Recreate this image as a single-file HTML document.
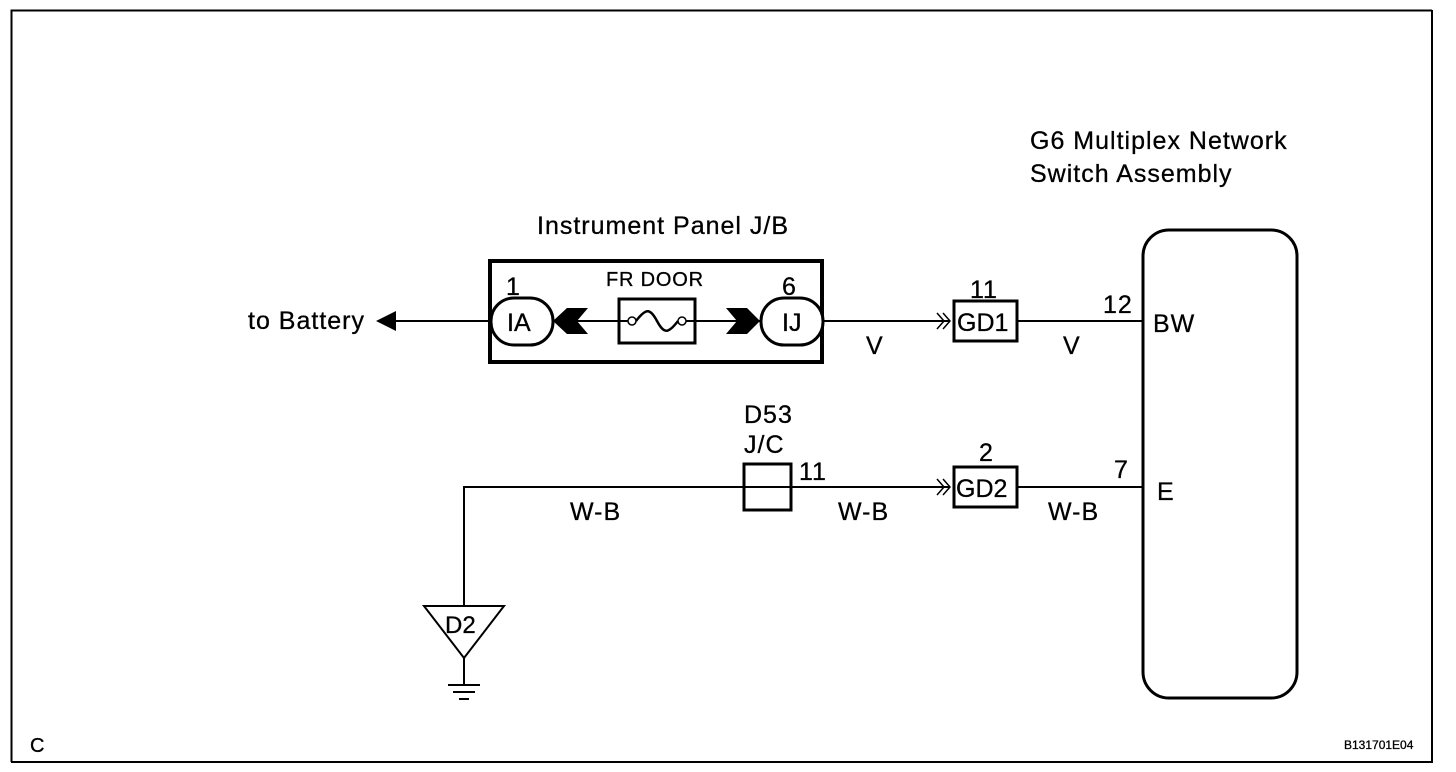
<!DOCTYPE html>
<html><head><style>body{margin:0;background:#fff}svg{display:block}text{font-family:"Liberation Sans",Arial,sans-serif;fill:#000;stroke:#000;stroke-width:0.3}</style></head>
<body>
<svg width="1456" height="772" viewBox="0 0 1456 772" xmlns="http://www.w3.org/2000/svg">
<rect x="0" y="0" width="1456" height="772" fill="#fff"/>
<path d="M11.5 762 V10.5 H1432" fill="none" stroke="#000" stroke-width="2"/>
<path d="M1432 10 V762 H11" fill="none" stroke="#000" stroke-width="2"/>

<g font-size="25" letter-spacing="1">
<text x="1030" y="149">G6 Multiplex Network</text>
<text x="1030" y="182">Switch Assembly</text>
<text x="537" y="234">Instrument Panel J/B</text>
<text x="248" y="329">to Battery</text>
<text x="506" y="295">1</text>
<text x="782" y="295">6</text>
<text x="970" y="298">11</text>
<text x="1103" y="313">12</text>
<text x="1153" y="332">BW</text>
<text x="866" y="354">V</text>
<text x="1063" y="354">V</text>
<text x="744" y="423">D53</text>
<text x="744" y="453">J/C</text>
<text x="799" y="480">11</text>
<text x="979" y="461">2</text>
<text x="1114" y="478">7</text>
<text x="1157" y="500">E</text>
<text x="570" y="520">W-B</text>
<text x="838" y="520">W-B</text>
<text x="1048" y="520">W-B</text>
<text x="30" y="752" font-size="20">C</text>
</g>
<text x="1344" y="749" font-size="12">B131701E04</text>
<text x="606" y="286" font-size="20" letter-spacing="0.8">FR DOOR</text>

<rect x="490" y="261" width="332" height="101" fill="none" stroke="#000" stroke-width="4"/>
<line x1="390" y1="321" x2="493" y2="321" stroke="#000" stroke-width="2"/>
<polygon points="376,321 396,311 396,331" fill="#000"/>
<line x1="553" y1="321" x2="760" y2="321" stroke="#000" stroke-width="2"/>
<line x1="822" y1="321" x2="950" y2="321" stroke="#000" stroke-width="2"/>
<line x1="1018" y1="321" x2="1142" y2="321" stroke="#000" stroke-width="2"/>
<rect x="491" y="298" width="62" height="47" rx="23" fill="#fff" stroke="#000" stroke-width="3"/>
<text x="507" y="331" font-size="25">IA</text>
<rect x="761" y="298" width="62" height="47" rx="23" fill="#fff" stroke="#000" stroke-width="3"/>
<text x="782" y="331" font-size="25">IJ</text>
<polygon points="553,321 567,308 588,308 577,321 588,334 567,334" fill="#000"/>
<polygon points="726,308 747,308 760,321 747,334 726,334 737,321" fill="#000"/>
<rect x="619" y="299" width="76" height="44" fill="#fff" stroke="#000" stroke-width="3"/>
<line x1="619" y1="321" x2="628" y2="321" stroke="#000" stroke-width="2"/>
<line x1="686" y1="321" x2="695" y2="321" stroke="#000" stroke-width="2"/>
<circle cx="632" cy="321" r="4" fill="#fff" stroke="#000" stroke-width="1.5"/>
<circle cx="682" cy="321" r="4" fill="#fff" stroke="#000" stroke-width="1.5"/>
<path d="M636 321 C646 308 650 308 657 321 C664 334 668 334 678 321" fill="none" stroke="#000" stroke-width="2.5"/>

<path d="M937 313 L944 321 L937 329 M943 313 L950 321 L943 329" fill="none" stroke="#000" stroke-width="1.5"/>
<rect x="954" y="301" width="63" height="40" fill="#fff" stroke="#000" stroke-width="3"/>
<text x="957" y="331" font-size="25">GD1</text>

<line x1="464" y1="487" x2="950" y2="487" stroke="#000" stroke-width="2"/>
<line x1="1018" y1="487" x2="1142" y2="487" stroke="#000" stroke-width="2"/>
<rect x="744" y="464" width="47" height="46" fill="none" stroke="#000" stroke-width="3"/>
<path d="M937 479 L944 487 L937 495 M943 479 L950 487 L943 495" fill="none" stroke="#000" stroke-width="1.5"/>
<rect x="954" y="467" width="63" height="40" fill="#fff" stroke="#000" stroke-width="3"/>
<text x="956" y="497" font-size="25">GD2</text>

<line x1="464" y1="486" x2="464" y2="606" stroke="#000" stroke-width="2"/>
<polygon points="424,606 504,606 464,658" fill="#fff" stroke="#000" stroke-width="2"/>
<text x="445" y="633" font-size="24">D2</text>
<line x1="464" y1="658" x2="464" y2="685" stroke="#000" stroke-width="2"/>
<line x1="448" y1="685" x2="480" y2="685" stroke="#000" stroke-width="2"/>
<line x1="453" y1="692" x2="475" y2="692" stroke="#000" stroke-width="2"/>
<line x1="459" y1="699" x2="469" y2="699" stroke="#000" stroke-width="2"/>

<rect x="1143" y="230" width="154" height="468" rx="26" fill="none" stroke="#000" stroke-width="3"/>
</svg>
</body></html>
